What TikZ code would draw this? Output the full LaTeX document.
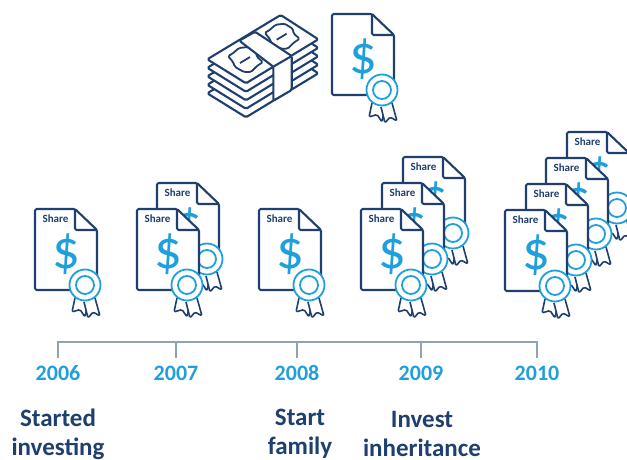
\documentclass[tikz,border=0pt]{standalone}
\usepackage{fontspec}
\setmainfont{Carlito}
\definecolor{navy}{HTML}{1F3F6E}
\definecolor{sky}{HTML}{1F9FDB}
\definecolor{axisgrey}{HTML}{8FA3B5}
\tikzset{
  outline/.style={navy,line width=2.1pt,line join=round,rounded corners=1.5pt},
  yearlabel/.style={sky,font=\fontsize{22}{26}\selectfont\bfseries},
  eventlabel/.style={navy,align=center,font=\fontsize{25}{29}\selectfont\bfseries},
  notelayer/.pic={
    \draw[outline,fill=white] (207.3,59.3)--(280.7,15)--(318.3,39.3)--(246,83.3)--cycle;
  },
  noteoval/.pic={
    \draw[outline,line width=1.8pt] (-17,-4)--(-13,-6)--(-6,-12)--(3,-13)--(11,-8)--(12,-3)--(18,2)--(12,6)--(6,12)--(-1,12)--(-10,7)--(-12,2)--cycle;
    \draw[outline,line width=1.8pt] (-5,3)--(5,-3);
  },
  plaindoc/.pic={
    \draw[outline,fill=white] (0,0)--(40,0)--(62,21)--(62,81)--(0,81)--cycle;
    \draw[outline] (40,0)--(40,21)--(62,21);
    \node[sky,inner sep=0pt,font=\fontsize{55}{55}\selectfont] (-dollar) at (31,45) {\$};
    \draw[outline,line width=1.6pt,fill=white] (40,89)--(37,103)--(45,100.5)--(50,108)--(53,93);
    \draw[outline,line width=1.6pt,fill=white] (49,93)--(53,109)--(58,103)--(65,107)--(60,89);
    \draw[sky,line width=1.8pt,fill=white] (50,76) circle (15.5);
    \draw[sky,line width=1.8pt] (50,76) circle (9);
  },
  sharedoc/.pic={
    \pic (-body) at (0,0) {plaindoc};
    \node[navy,font=\fontsize{11}{12}\selectfont\bfseries] (-label) at (20.5,10) {Share};
  }
}

\begin{document}
\begin{tikzpicture}[x=1pt,y=-1pt]

\clip (0,0) rectangle (627,460);

% stack of notes
\pic at (0,34) {notelayer};
\pic at (0,25.5) {notelayer};
\pic at (0,17) {notelayer};
\pic at (0,8.5) {notelayer};
\pic at (0,0) {notelayer};
\pic at (245,60) {noteoval};
\pic at (281.7,36.7) {noteoval};
\draw[outline,fill=white] (239.3,40.7)--(255,31.7)--(291.7,56)--(291.7,90)--(273.3,100.7)--(273.3,66.7)--cycle;
\draw[outline] (273.3,66.7)--(291.7,56);

\pic (topdoc) at (332,14) {plaindoc};

% documents, back to front
\pic (a06) at (35,209) {sharedoc};

\pic (b07) at (157,183) {sharedoc};
\pic (a07) at (137,209) {sharedoc};

\pic (a08) at (259,209) {sharedoc};

\pic (c09) at (403,157) {sharedoc};
\pic (b09) at (382,183) {sharedoc};
\pic (a09) at (361,209) {sharedoc};

\pic (d10) at (567,132) {sharedoc};
\pic (c10) at (546,158) {sharedoc};
\pic (b10) at (526,184) {sharedoc};
\pic (a10) at (505,210) {sharedoc};

% time line
\coordinate (t06) at (58,342);
\coordinate (t07) at (176,342);
\coordinate (t08) at (297,342);
\coordinate (t09) at (421,342);
\coordinate (t10) at (537,342);

\node[yearlabel] (y06) at (58,373) {2006};
\node[yearlabel] (y07) at (176,373) {2007};
\node[yearlabel] (y08) at (297,373) {2008};
\node[yearlabel] (y09) at (421,373) {2009};
\node[yearlabel] (y10) at (537,373) {2010};

\coordinate (e06) at (58,358);
\coordinate (e07) at (176,358);
\coordinate (e08) at (297,358);
\coordinate (e09) at (421,358);
\coordinate (e10) at (537,358);

\draw[axisgrey,line width=1.8pt] (e06)--(t06)--(t10)--(e10);
\draw[axisgrey,line width=1.8pt] (t07)--(e07);
\draw[axisgrey,line width=1.8pt] (t08)--(e08);
\draw[axisgrey,line width=1.8pt] (t09)--(e09);

\node[eventlabel] (started) at (58,434) {Started\\investing};
\node[eventlabel] (family) at (300,434) {Start\\family};
\node[eventlabel] (inherit) at (422,434) {Invest\\inheritance};

\end{tikzpicture}
\end{document}
